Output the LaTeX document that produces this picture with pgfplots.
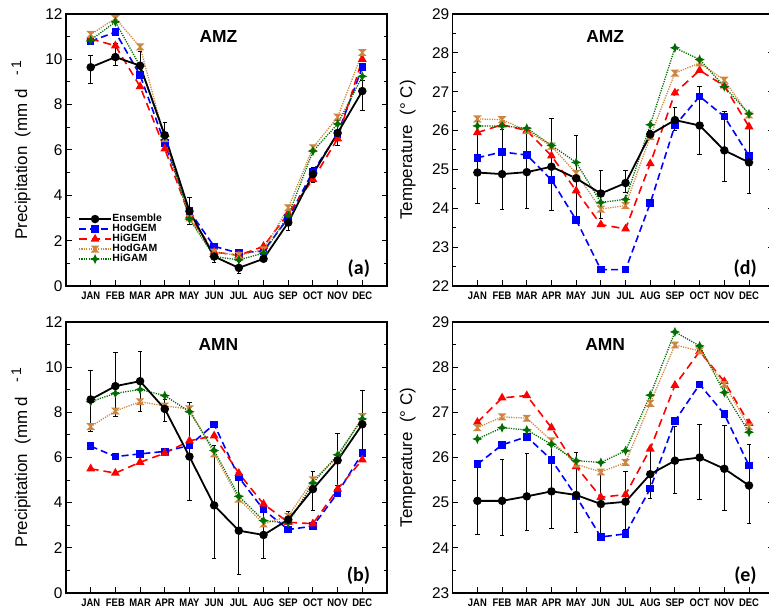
\documentclass[border=0pt]{standalone}
\usepackage{fontspec}
\setmainfont{Liberation Sans}
\newfontfamily\labfont{Carlito}
\usepackage{graphicx}
\usepackage{pgfplots}
\usepackage{pgfplotstable}
\pgfplotsset{compat=1.18}

\definecolor{hodgamc}{RGB}{205,133,63}
\definecolor{higamc}{RGB}{0,110,0}

% hourglass and 4-point star marks
\pgfdeclareplotmark{hourglass}{%
  \pgfpathmoveto{\pgfqpoint{-\pgfplotmarksize}{\pgfplotmarksize}}%
  \pgfpathlineto{\pgfqpoint{\pgfplotmarksize}{\pgfplotmarksize}}%
  \pgfpathlineto{\pgfqpoint{-\pgfplotmarksize}{-\pgfplotmarksize}}%
  \pgfpathlineto{\pgfqpoint{\pgfplotmarksize}{-\pgfplotmarksize}}%
  \pgfpathclose\pgfusepathqfillstroke}
\pgfdeclareplotmark{star4}{%
  \pgfpathmoveto{\pgfqpoint{0pt}{\pgfplotmarksize}}%
  \pgfpathlineto{\pgfqpoint{0.3\pgfplotmarksize}{0.3\pgfplotmarksize}}%
  \pgfpathlineto{\pgfqpoint{\pgfplotmarksize}{0pt}}%
  \pgfpathlineto{\pgfqpoint{0.3\pgfplotmarksize}{-0.3\pgfplotmarksize}}%
  \pgfpathlineto{\pgfqpoint{0pt}{-\pgfplotmarksize}}%
  \pgfpathlineto{\pgfqpoint{-0.3\pgfplotmarksize}{-0.3\pgfplotmarksize}}%
  \pgfpathlineto{\pgfqpoint{-\pgfplotmarksize}{0pt}}%
  \pgfpathlineto{\pgfqpoint{-0.3\pgfplotmarksize}{0.3\pgfplotmarksize}}%
  \pgfpathclose\pgfusepathqfillstroke}

% columns: month, ensemble, err+, err-, HodGEM, HiGEM, HodGAM, HiGAM
\pgfplotstableread{
m ens ep em hodgem higem hodgam higam
1 9.65 0.5 0.7 10.8 10.9 11.1 10.85
2 10.1 0.62 0.38 11.2 10.6 11.8 11.65
3 9.72 0.63 0.58 9.3 8.8 10.55 9.7
4 6.65 0.55 0.5 6.3 6.05 6.5 6.6
5 3.3 0.6 0.6 3.3 3.1 3.0 2.95
6 1.3 0.25 0.25 1.75 1.5 1.5 1.3
7 0.8 0.3 0.25 1.45 1.35 1.35 1.15
8 1.2 0.1 0.1 1.55 1.75 1.6 1.45
9 2.8 0.35 0.35 3.0 3.2 3.45 3.1
10 4.93 0.3 0.35 5.05 4.7 6.1 5.95
11 6.75 0.55 0.55 6.7 6.5 7.45 7.15
12 8.6 0.45 0.85 9.65 10.0 10.3 9.25
}\amzpr
\pgfplotstableread{
m ens ep em hodgem higem hodgam higam
1 24.92 0.98 0.8 25.3 25.95 26.3 26.12
2 24.88 1.15 0.91 25.45 26.15 26.28 26.12
3 24.93 1.12 0.93 25.37 26.0 26.0 26.06
4 25.07 1.25 1.13 24.73 25.35 25.6 25.62
5 24.77 1.1 1.11 23.7 24.45 24.9 25.18
6 24.38 0.6 0.63 22.42 23.58 23.98 24.15
7 24.65 0.33 0.25 22.42 23.47 24.07 24.23
8 25.9 0.1 0.1 24.13 25.15 25.85 26.15
9 26.27 0.33 0.27 26.13 26.97 27.48 28.13
10 26.13 1.01 0.74 26.88 27.55 27.74 27.83
11 25.49 1.0 0.81 26.36 27.15 27.3 27.13
12 25.18 0.98 0.81 25.35 26.1 26.4 26.43
}\amztas
\pgfplotstableread{
m ens ep em hodgem higem hodgam higam
1 8.57 1.27 1.42 6.5 5.5 7.37 8.47
2 9.16 1.49 1.36 6.04 5.31 8.06 8.84
3 9.38 1.3 1.32 6.16 5.79 8.47 9.01
4 8.15 0.4 0.55 6.27 6.19 8.28 8.74
5 6.04 2.39 1.95 6.53 6.74 8.15 8.03
6 3.88 2.65 2.34 7.47 6.96 6.16 6.31
7 2.76 2.21 1.94 5.12 5.3 4.16 4.28
8 2.57 1.31 1.03 3.69 3.94 3.06 3.21
9 3.25 0.37 0.35 2.81 3.13 3.4 3.1
10 4.6 0.78 0.95 2.96 3.07 5.01 4.87
11 5.87 1.2 1.12 4.43 4.6 6.0 6.12
12 7.47 1.52 1.57 6.19 5.9 7.81 7.71
}\amnpr
\pgfplotstableread{
m ens ep em hodgem higem hodgam higam
1 25.04 0.87 0.75 25.85 26.78 26.66 26.41
2 25.04 0.91 0.76 26.28 27.32 26.9 26.66
3 25.14 0.94 0.76 26.46 27.37 26.87 26.61
4 25.25 1.01 0.81 25.95 26.66 26.37 26.29
5 25.17 0.94 0.82 25.14 25.8 25.85 25.93
6 24.97 0.65 0.74 24.24 25.12 25.68 25.89
7 25.02 0.68 0.62 24.31 25.18 25.89 26.15
8 25.63 0.52 0.54 25.31 26.19 27.2 27.38
9 25.93 0.75 0.73 26.81 27.6 28.49 28.78
10 26.0 0.74 0.92 27.62 28.35 28.36 28.47
11 25.75 0.95 0.92 26.96 27.68 27.62 27.44
12 25.38 0.91 0.83 25.82 26.76 26.68 26.56
}\amntas

% condensed month names
\newcommand{\mo}[1]{\scalebox{0.86}[1]{#1}}

\pgfplotsset{
  panel/.style={
    scale only axis, width=321bp,
    xmin=0, xmax=13,
    xtick={1,...,12},
    xticklabels={\mo{JAN},\mo{FEB},\mo{MAR},\mo{APR},\mo{MAY},\mo{JUN},
      \mo{JUL},\mo{AUG},\mo{SEP},\mo{OCT},\mo{NOV},\mo{DEC}},
    xtick pos=bottom, ytick pos=both, yticklabel pos=left,
    tick align=inside,
    minor y tick num=1,
    major tick length=5.5bp, minor tick length=3.5bp,
    axis line style={line width=1.4bp},
    every tick/.style={black, line width=1bp},
    x tick label style={font=\fontsize{11}{12}\selectfont\bfseries, yshift=-2bp},
    y tick label style={font=\fontsize{15.5}{18}\selectfont},
    /pgf/number format/assume math mode=true,
    every axis y label/.style={at={(axis description cs:-0.14,0.5)},
      anchor=center, rotate=90, font=\fontsize{17}{20}\selectfont},
    clip=false,
  },
  ens/.style={black, line width=1.8bp, mark=*, mark size=3.3bp, mark options={solid}},
  hodgem/.style={blue, line width=1.6bp, dash pattern=on 7bp off 4bp,
    mark=square*, mark size=3bp, mark options={solid}},
  higem/.style={red, line width=1.6bp, dash pattern=on 8bp off 5bp,
    mark=triangle*, mark size=3.6bp, mark options={solid}},
  hodgam/.style={hodgamc, line width=1.3bp, dash pattern=on 1.2bp off 1.2bp,
    mark=hourglass, mark size=2.8bp, mark options={solid}},
  higam/.style={higamc, line width=1.3bp, dash pattern=on 1.2bp off 1.2bp,
    mark=star4, mark size=3.4bp, mark options={solid}},
  enserr/.style={ens, error bars/.cd, y dir=both, y explicit,
    error bar style={line width=0.9bp, solid},
    error mark options={rotate=90, mark size=2.2bp, line width=0.9bp}},
}

\newcommand{\plotmodels}[1]{%
  \addplot[hodgem] table[x=m, y=hodgem] {#1};
  \addplot[higem] table[x=m, y=higem] {#1};
  \addplot[hodgam] table[x=m, y=hodgam] {#1};
  \addplot[higam] table[x=m, y=higam] {#1};
  \addplot[enserr] table[x=m, y=ens, y error plus=ep, y error minus=em] {#1};
}
\newcommand{\paneltag}[1]{\node[anchor=east, font=\labfont\bfseries\fontsize{20}{22}\selectfont]
  at (rel axis cs:0.958,0.065) {#1};}
\newcommand{\regionname}[1]{\node[font=\fontsize{17.5}{20}\selectfont\bfseries]
  at (rel axis cs:0.475,0.918) {#1};}
\newcommand{\prlabel}{Precipitation\ \ (mm\ d\hspace{14bp}\raisebox{6bp}{\fontsize{14}{14}\selectfont -\,1}}

\begin{document}
\begin{tikzpicture}
\useasboundingbox (0,0) rectangle (769bp,612bp);

% (a) AMZ precipitation
\begin{axis}[panel, at={(66bp,326bp)}, anchor=south west, height=272bp,
  ymin=0, ymax=12, ytick={0,2,...,12},
  ylabel={\prlabel},
  legend style={at={(rel axis cs:0.028,0.272)}, anchor=north west, draw=none, fill=none,
    font=\fontsize{10.5}{10}\selectfont\bfseries, row sep=0.3bp,
    nodes={inner sep=0.5bp, text height=7.2bp, text depth=1.5bp}},
  legend cell align=left,
  legend image code/.code={\draw[mark repeat=2,mark phase=2,#1]
    plot coordinates {(0bp,0bp) (16bp,0bp) (32bp,0bp)};}]
\addlegendimage{ens}
\addlegendimage{hodgem}
\addlegendimage{higem}
\addlegendimage{hodgam}
\addlegendimage{higam}
\plotmodels{\amzpr}
\legend{Ensemble, HodGEM, HiGEM, HodGAM, HiGAM}
\regionname{AMZ}
\paneltag{(a)}
\end{axis}

% (d) AMZ temperature
\begin{axis}[panel, at={(452.7bp,326bp)}, anchor=south west, height=272bp,
  ymin=22, ymax=29, ytick={22,...,29},
  ylabel={Temperature\ \ (° C)}]
\plotmodels{\amztas}
\regionname{AMZ}
\paneltag{(d)}
\end{axis}

% (b) AMN precipitation
\begin{axis}[panel, at={(66bp,19bp)}, anchor=south west, height=271bp,
  ymin=0, ymax=12, ytick={0,2,...,12},
  ylabel={\prlabel}]
\plotmodels{\amnpr}
\regionname{AMN}
\paneltag{(b)}
\end{axis}

% (e) AMN temperature
\begin{axis}[panel, at={(452.7bp,19bp)}, anchor=south west, height=271bp,
  ymin=23, ymax=29, ytick={23,...,29},
  ylabel={Temperature\ \ (° C)}]
\plotmodels{\amntas}
\regionname{AMN}
\paneltag{(e)}
\end{axis}
\end{tikzpicture}
\end{document}
